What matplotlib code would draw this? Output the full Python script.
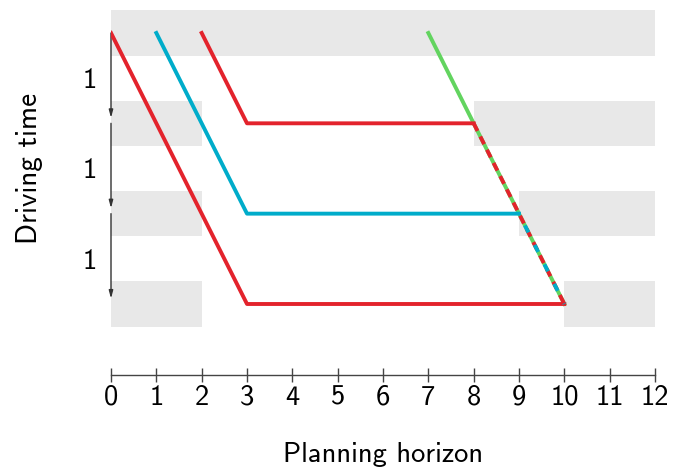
import matplotlib
matplotlib.use('Agg')
import matplotlib.pyplot as plt

plt.rcParams['font.family'] = ['cmss10', 'DejaVu Sans']
plt.rcParams['axes.unicode_minus'] = False
plt.rcParams['mathtext.fontset'] = 'cm'

# gray availability bands: (level, x start, x end)
bands = [(0, 0, 12), (1, 0, 2), (1, 8, 12), (2, 0, 2), (2, 9, 12), (3, 0, 2), (3, 10, 12)]

# driving paths (x = planning horizon, y = driving time)
red1_x = [0, 3, 10]
red1_y = [0, 3, 3]
cyan_x = [1, 3, 9]
cyan_y = [0, 2, 2]
red2_x = [2, 3, 8]
red2_y = [0, 1, 1]
green_x = [7, 10]
green_y = [0, 3]
red_dash_x = [8, 10]
red_dash_y = [1, 3]
cyan_dash_x = [9, 10]
cyan_dash_y = [2, 3]

xticks = list(range(13))
ytick_pos = [0.5, 1.5, 2.5]
ytick_labels = ['1', '1', '1']

RED = '#e3232c'
CYAN = '#00acca'
GREEN = '#62d45f'

fig = plt.figure(figsize=(6.73, 4.76), dpi=100)
ax = fig.add_axes([111 / 673, 101 / 476, 544 / 673, 375 / 476])

for lev, x0, x1 in bands:
    ax.fill_between([x0, x1], lev - 0.25, lev + 0.25, color='#e8e8e8', lw=0, zorder=0)

for k in range(3):
    ax.annotate('', xy=(0, k + 0.94), xytext=(0, k),
                arrowprops=dict(arrowstyle='-|>,head_length=0.45,head_width=0.12',
                                color='#333333', lw=1.0, shrinkA=0, shrinkB=0),
                zorder=2)

lw = 2.8
ax.plot(green_x, green_y, color=GREEN, lw=lw, zorder=3)
ax.plot(red1_x, red1_y, color=RED, lw=lw, zorder=4)
ax.plot(cyan_x, cyan_y, color=CYAN, lw=lw, zorder=4)
ax.plot(red2_x, red2_y, color=RED, lw=lw, zorder=4)
ax.plot(red_dash_x, red_dash_y, color=RED, lw=lw, ls=(0, (2.2, 1.6)), zorder=5)
ax.plot(cyan_dash_x, cyan_dash_y, color=CYAN, lw=lw, ls=(2.2, (2.0, 3.6)), zorder=6)

ax.set_xlim(0, 12)
ax.set_ylim(3.786, -0.365)

for s in ['top', 'right', 'left']:
    ax.spines[s].set_visible(False)
ax.spines['bottom'].set_color('#444444')
ax.spines['bottom'].set_linewidth(1.0)

ax.set_xticks(xticks)
ax.set_xticklabels([str(t) for t in xticks])
ax.tick_params(axis='x', direction='inout', length=10, width=1, color='#444444',
               labelsize=20.5, pad=2)
ax.set_yticks(ytick_pos)
ax.set_yticklabels(ytick_labels)
ax.tick_params(axis='y', length=0, labelsize=20.5, pad=10)

ax.set_xlabel('Planning horizon', fontsize=20.5, labelpad=23)
ax.set_ylabel('Driving time', fontsize=21)
ax.yaxis.set_label_coords(-0.125, 0.552)

fig.savefig('out.png', dpi=100)
